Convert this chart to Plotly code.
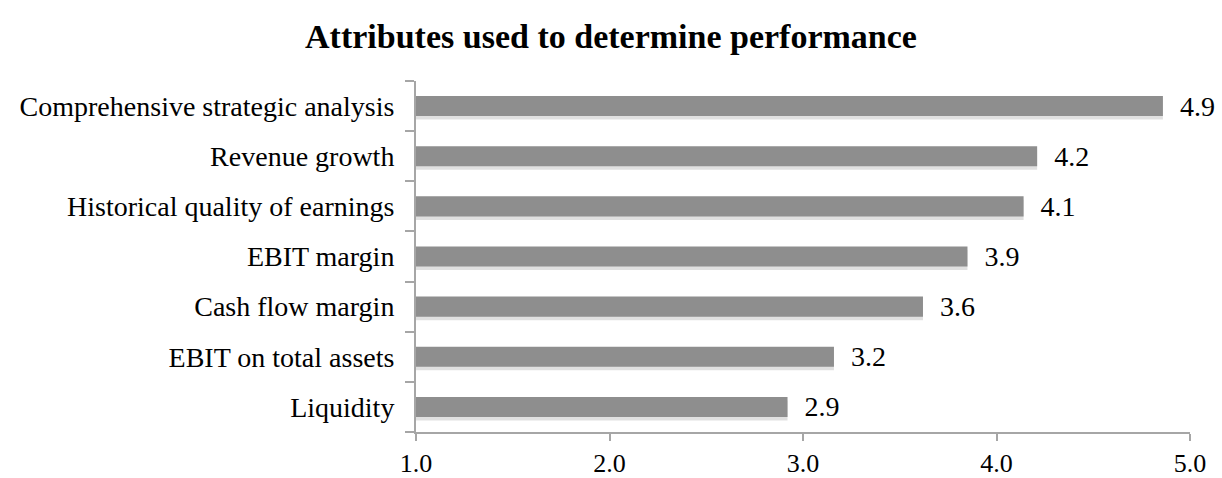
import plotly.graph_objects as go

# Mean ratings per attribute (scale 1-5), listed top to bottom
attributes = [
    "Comprehensive strategic analysis",
    "Revenue growth",
    "Historical quality of earnings",
    "EBIT margin",
    "Cash flow margin",
    "EBIT on total assets",
    "Liquidity",
]
scores = [4.86, 4.21, 4.14, 3.85, 3.62, 3.16, 2.92]

x_ticks = [1, 2, 3, 4, 5]

FONT = "Liberation Serif"
AXIS_GREY = "#a6a6a6"
BAR_GREY = "#8e8e8e"

fig = go.Figure()

# soft drop shadow just below each bar
fig.add_trace(go.Bar(
    y=attributes,
    x=scores,
    orientation="h",
    width=0.4,
    offset=-0.27,
    marker=dict(color="rgba(0,0,0,0.12)", line=dict(width=0)),
    hoverinfo="skip",
    showlegend=False,
))

fig.add_trace(go.Bar(
    y=attributes,
    x=scores,
    orientation="h",
    width=0.4,
    offset=-0.2,
    marker=dict(color=BAR_GREY, line=dict(width=0)),
    texttemplate="\u00a0\u00a0%{x:.1f}",
    textposition="outside",
    constraintext="none",
    textfont=dict(family=FONT, size=28, color="#000000"),
    cliponaxis=False,
    showlegend=False,
))

fig.update_layout(
    width=1222,
    height=478,
    barmode="overlay",
    paper_bgcolor="white",
    plot_bgcolor="white",
    margin=dict(l=416, r=32, t=81, b=46, autoexpand=False),
    title=dict(
        text="<b>Attributes used to determine performance</b>",
        x=0.5,
        xanchor="center",
        y=0.925,
        yanchor="middle",
        font=dict(family=FONT, size=34, color="#000000"),
    ),
    font=dict(family=FONT, size=28, color="#000000"),
)

fig.update_xaxes(
    range=[1, 5],
    tickvals=x_ticks,
    tickformat=".1f",
    showgrid=False,
    zeroline=False,
    showline=True,
    linecolor=AXIS_GREY,
    linewidth=2,
    ticks="outside",
    ticklen=7,
    tickwidth=2,
    tickcolor=AXIS_GREY,
    tickfont=dict(family=FONT, size=26, color="#000000"),
    automargin=False,
)

fig.update_yaxes(
    categoryorder="array",
    categoryarray=attributes[::-1],
    tickson="boundaries",
    showgrid=False,
    zeroline=False,
    showline=True,
    linecolor=AXIS_GREY,
    linewidth=2,
    ticks="outside",
    ticklen=9,
    tickwidth=2,
    tickcolor=AXIS_GREY,
    tickfont=dict(family=FONT, size=28, color="#000000"),
    ticklabelstandoff=14,
    automargin=False,
)

fig.write_html("out.html")
